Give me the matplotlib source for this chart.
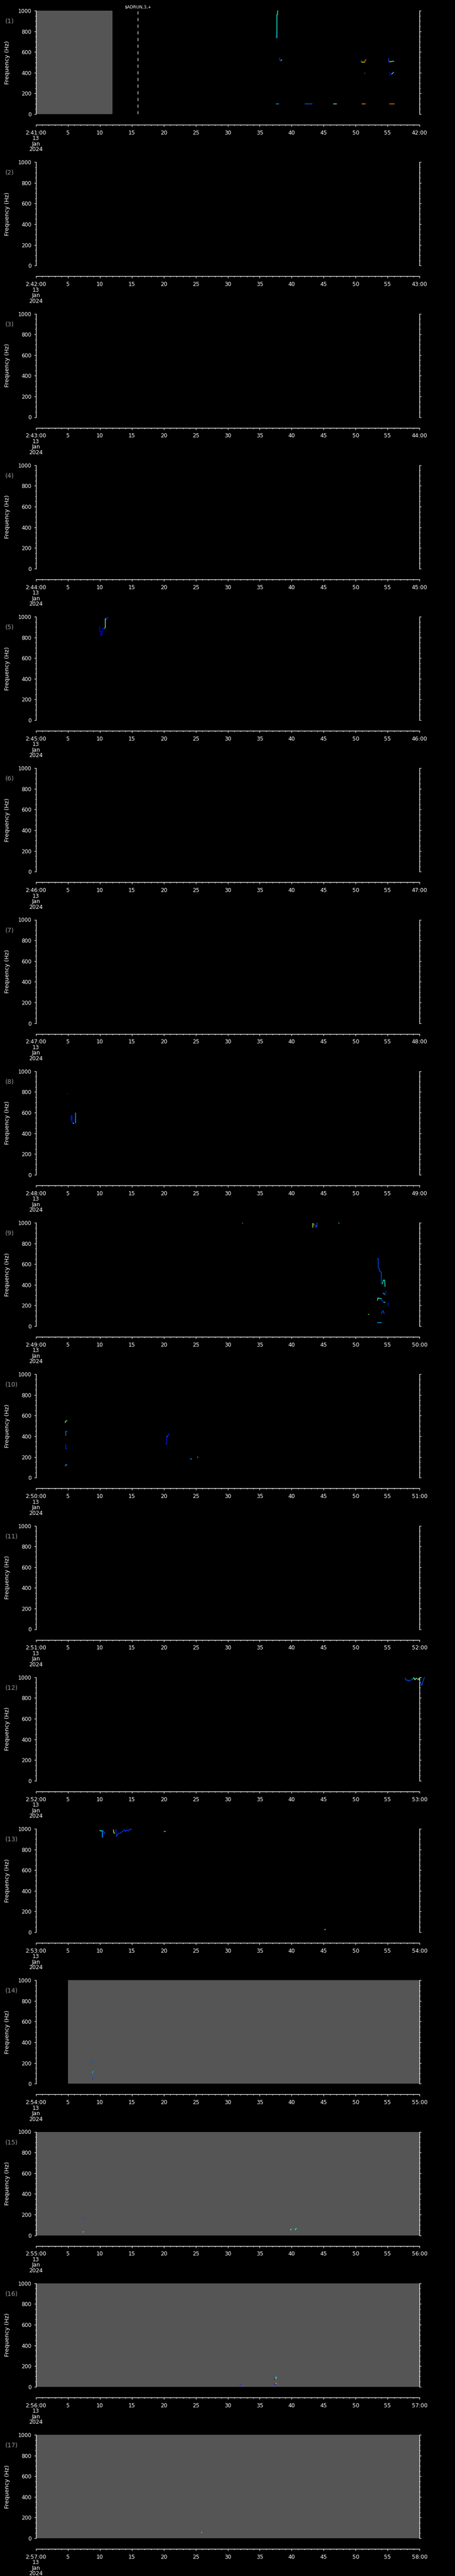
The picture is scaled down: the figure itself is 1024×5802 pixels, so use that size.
import matplotlib
matplotlib.use('Agg')
import matplotlib.pyplot as plt
from matplotlib.ticker import MultipleLocator, FixedLocator
import matplotlib.transforms as mtransforms

# one panel per minute, 2:41 .. 2:57 UT on 13 Jan 2024
panel_minutes = list(range(41, 58))
date_lines = '13\nJan\n2024'

# grey = no data (seconds after the panel start)
gap_panel = [1, 14, 15, 16, 17]
gap_start = [0.0, 5.0, 0.0, 0.0, 0.0]
gap_end = [12.0, 60.0, 60.0, 60.0, 60.0]

# event marker (panel 1)
mark_panel = 1
mark_time = 15.95
mark_text = '$ADRUN,3,+'

# wave traces: panel no., colour level (0-1 on jet), time (s), frequency (Hz)
seg_panel = [
    1, 1, 1, 1, 1, 1, 1, 1, 1, 1, 1, 1, 1, 1, 1, 1, 1, 1, 1,
    5, 5, 5, 5,
    8, 8, 8, 8,
    9, 9, 9, 9, 9, 9, 9, 9, 9, 9, 9, 9, 9, 9, 9, 9, 9,
    10, 10, 10, 10, 10, 10, 10, 10, 10,
    12, 12, 12, 12, 12, 12,
    13, 13, 13, 13, 13, 13,
    14, 14, 14,
    15, 15, 15, 15, 15,
    16, 16, 16, 16, 16,
    17,
]
seg_level = [
    0.12, 0.38, 0.25, 0.18, 0.68, 0.25, 0.62, 0.82, 0.20, 0.66, 0.40, 0.22, 0.12, 0.42, 0.30, 0.22, 0.48, 0.75, 0.78,
    0.12, 0.35, 0.52, 0.15,
    0.10, 0.15, 0.40, 0.30,
    0.30, 0.55, 0.80, 0.20, 0.35, 0.20, 0.38, 0.18, 0.40, 0.15, 0.40, 0.18, 0.40, 0.15, 0.20, 0.55, 0.30,
    0.50, 0.25, 0.15, 0.30, 0.15, 0.40, 0.15, 0.30, 0.42,
    0.20, 0.45, 0.65, 0.30, 0.60, 0.20,
    0.40, 0.20, 0.60, 0.18, 0.40, 0.55,
    0.20, 0.30, 0.15,
    0.20, 0.40, 0.22, 0.45, 0.40,
    0.15, 0.15, 0.40, 0.15, 0.68,
    0.50,
]
seg_time = [
    # panel 1
    [37.53, 37.53, 37.62], [37.69, 37.69, 37.78, 37.80], [37.80, 37.91],
    [38.10, 38.13, 38.20, 38.30], [38.32, 38.49],
    [50.85, 50.90], [50.94, 51.43], [51.43, 51.50, 51.71],
    [55.16, 55.16, 55.30], [55.30, 55.63], [55.63, 56.05],
    [51.35, 51.50], [55.30, 55.35, 55.44, 55.60], [55.60, 55.77, 55.96],
    [37.53, 38.03], [42.08, 43.24], [46.48, 47.06], [50.94, 51.54], [55.24, 56.07],
    # panel 5
    [9.96, 9.96, 10.19, 10.19, 10.30, 10.30, 10.37, 10.37, 10.65],
    [10.65, 10.80], [10.88, 10.88, 11.00], [11.07, 11.10, 11.34],
    # panel 8
    [4.92, 4.95], [5.51, 5.51, 5.65, 5.65, 5.80], [5.80, 5.97], [6.19, 6.19, 6.28],
    # panel 9
    [32.25, 32.40], [43.30, 43.30, 43.45], [43.45, 43.55],
    [43.60, 43.77, 43.77, 43.90, 43.97, 43.97], [47.30, 47.45],
    [53.36, 53.55, 53.55, 53.67, 53.75, 53.94, 54.02, 54.02, 54.20],
    [54.20, 54.33, 54.53, 54.61],
    [54.18, 54.26, 54.41], [54.41, 54.49], [54.55, 54.69, 54.69],
    [53.40, 53.48, 53.75, 54.06], [54.06, 54.14, 54.37], [54.37, 54.64],
    [55.03, 55.15, 55.15], [54.06, 54.18, 54.33, 54.41, 54.53],
    [51.95, 52.10], [53.36, 54.06],
    # panel 10
    [4.58, 4.62, 4.75, 4.92], [4.68, 4.68, 4.90], [4.68, 4.68, 4.85], [4.62, 4.65, 4.90],
    [20.24, 20.47, 20.47, 20.58], [20.55, 20.62], [20.62, 20.72, 20.72, 20.87],
    [24.15, 24.41], [25.21, 25.40],
    # panel 12
    [57.72, 57.85, 58.10, 58.30, 58.50, 58.75, 58.95], [58.95, 59.05, 59.15, 59.25],
    [59.25, 59.40, 59.55], [59.55, 59.70, 59.85], [59.85, 60.00],
    [60.00, 60.10, 60.25, 60.35, 60.45, 60.55, 60.70, 60.80],
    # panel 13
    [10.00, 10.05, 10.40, 10.40], [10.45, 10.45, 10.60, 10.75, 10.85],
    [12.12, 12.20, 12.35],
    [12.50, 12.58, 12.62, 12.89, 13.00, 13.21, 13.30, 13.60, 13.75, 13.90, 13.98, 14.18, 14.45, 14.60, 14.77, 15.00],
    [20.05, 20.30], [45.10, 45.35],
    # panel 14
    [8.85, 8.95], [8.85, 8.95], [8.85, 8.92],
    # panel 15
    [7.33, 7.40, 7.55], [7.35, 7.50], [39.90, 40.10], [39.80, 39.95], [40.50, 40.65, 40.80],
    # panel 16
    [31.87, 32.05], [37.20, 37.45], [37.55, 37.55, 37.70], [37.20, 37.45], [37.50, 37.62],
    # panel 17
    [25.90, 26.02],
]
seg_freq = [
    # panel 1
    [764, 740, 735], [735, 960, 962, 1000], [1000, 1000],
    [545, 535, 514, 514], [518, 526],
    [516, 500], [501, 501], [502, 524, 524],
    [541, 505, 505], [505, 509], [509, 509],
    [398, 392], [406, 376, 380, 386], [386, 395, 406],
    [97, 97], [97, 97], [97, 97], [97, 97], [97, 97],
    # panel 5
    [910, 860, 860, 821, 821, 838, 838, 884, 884],
    [884, 893], [893, 979, 979], [967, 991, 991],
    # panel 8
    [776, 790], [523, 568, 573, 505, 497], [497, 497], [497, 597, 597],
    # panel 9
    [997, 997], [953, 991, 991], [985, 977],
    [970, 977, 953, 967, 967, 1000], [997, 995],
    [652, 652, 567, 559, 531, 524, 524, 409, 409],
    [409, 445, 445, 381],
    [316, 320, 320], [320, 306], [302, 302, 342],
    [247, 273, 268, 268], [268, 245, 233], [233, 230],
    [223, 223, 195], [120, 147, 147, 127, 123],
    [113, 117], [33, 33],
    # panel 10
    [530, 545, 550, 550], [403, 446, 446], [322, 279, 279], [111, 124, 126],
    [328, 326, 397, 397], [400, 400], [400, 410, 420, 422],
    [180, 180], [197, 197],
    # panel 12
    [995, 975, 972, 962, 972, 975, 985], [985, 992, 995, 975],
    [975, 985, 993], [993, 975, 990], [990, 965],
    [965, 955, 940, 920, 935, 965, 990, 1000],
    # panel 13
    [988, 980, 980, 916], [916, 985, 975, 955, 960],
    [992, 960, 955],
    [995, 935, 925, 960, 955, 955, 965, 975, 985, 990, 970, 990, 975, 995, 990, 1000],
    [975, 975], [27, 27],
    # panel 14
    [199, 217], [99, 125], [45, 54],
    # panel 15
    [151, 165, 165], [31, 31], [148, 148], [48, 63], [50, 63, 65],
    # panel 16
    [25, 25], [70, 70], [70, 93, 93], [25, 25], [30, 37],
    # panel 17
    [54, 54],
]

W, H = 1024, 5802
fig = plt.figure(figsize=(W / 100, H / 100), dpi=100, facecolor='black')
x0, x1 = 80.7, 944.3
top0, step, ph = 24.0, 341.25, 233.0
cmap = plt.get_cmap('jet')
grey = '#555555'

axes = []
for k, minute in enumerate(panel_minutes):
    top = top0 + k * step
    ax = fig.add_axes([x0 / W, 1 - (top + ph) / H, (x1 - x0) / W, ph / H])
    ax.set_facecolor('black')
    ax.set_xlim(0, 60)
    ax.set_ylim(0, 1000)

    for s in ['left', 'right', 'bottom']:
        ax.spines[s].set_color('white')
        ax.spines[s].set_linewidth(1.0)
    ax.spines['top'].set_visible(False)
    ax.spines['bottom'].set_position(('outward', 17.3))

    # y axis, ticks on both sides
    ax.yaxis.set_major_locator(MultipleLocator(200))
    ax.yaxis.set_minor_locator(MultipleLocator(50))
    ax.yaxis.set_ticks_position('both')
    ax.tick_params(axis='y', which='major', direction='out', length=3.0, width=0.8,
                   colors='white', labelsize=8.6, pad=4)
    ax.tick_params(axis='y', which='minor', direction='out', length=1.6, width=0.8, colors='white')
    ax.set_ylabel('Frequency (Hz)', color='white', fontsize=9.4)
    ax.yaxis.set_label_coords((23.3 - x0) / (x1 - x0), 0.5)

    # x axis, detached below the panel
    ticks = list(range(0, 61, 5))
    labels = [str(t) for t in ticks]
    labels[0] = f'2:{minute}:00\n' + date_lines
    labels[-1] = f'{minute + 1}:00'
    ax.xaxis.set_major_locator(FixedLocator(ticks))
    ax.xaxis.set_minor_locator(MultipleLocator(1))
    ax.set_xticklabels(labels, linespacing=0.95)
    ax.tick_params(axis='x', which='major', direction='out', length=3.1, width=0.8,
                   colors='white', labelsize=8.8, pad=5.5)
    ax.tick_params(axis='x', which='minor', direction='out', length=1.7, width=0.8, colors='white')

    ax.text((11.7 - x0) / (x1 - x0), 1 - 23.7 / ph, f'({k + 1})', transform=ax.transAxes,
            color='#999999', fontsize=10, ha='left', va='center')
    axes.append(ax)

for p, a, b in zip(gap_panel, gap_start, gap_end):
    axes[p - 1].axvspan(a, b, color=grey, lw=0, zorder=0)

ax = axes[mark_panel - 1]
ax.axvline(mark_time, color='white', lw=0.9, dashes=(5.6, 6.4), zorder=3)
trans = mtransforms.blended_transform_factory(ax.transData, ax.transAxes)
ax.text(mark_time, 1 + 8.3 / ph, mark_text, transform=trans, color='white', fontsize=6.8,
        ha='center', va='center', parse_math=False)

for p, lv, ts, fs in zip(seg_panel, seg_level, seg_time, seg_freq):
    axes[p - 1].plot(ts, fs, color=cmap(lv), lw=1.1, clip_on=False,
                     solid_capstyle='butt', solid_joinstyle='miter', zorder=4)

fig.savefig('out.png', dpi=100, facecolor='black')
